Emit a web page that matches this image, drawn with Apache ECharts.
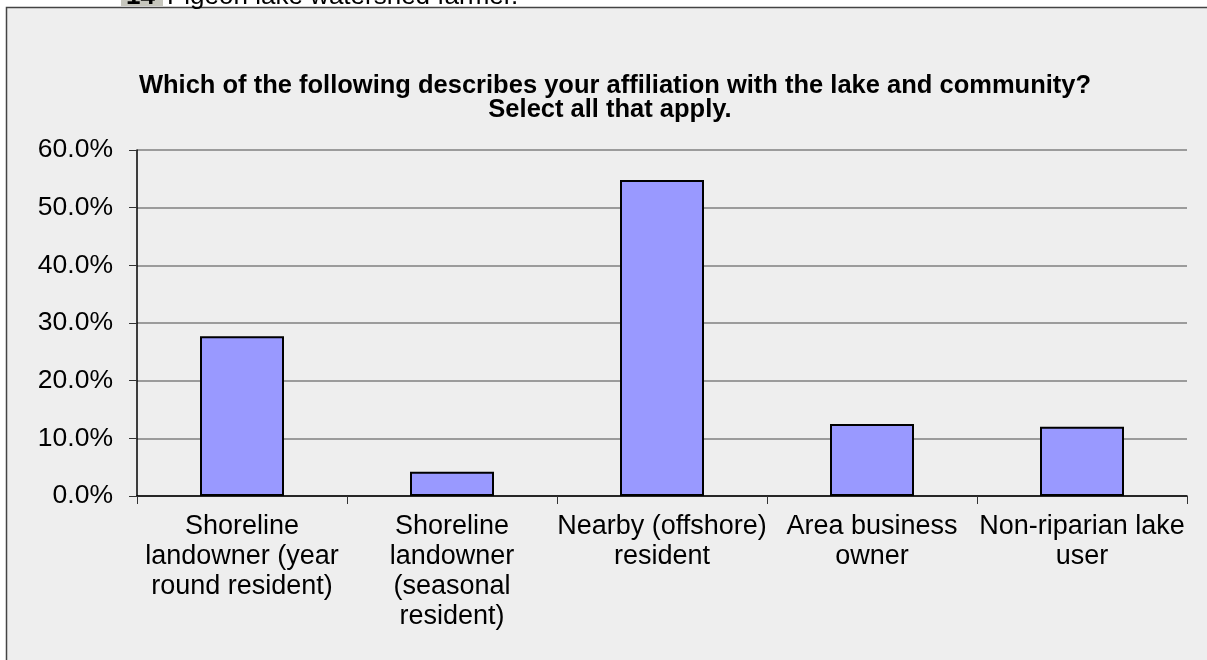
<!DOCTYPE html>
<html>
<head>
<meta charset="utf-8">
<script src="https://cdn.jsdelivr.net/npm/echarts@6/dist/echarts.min.js"></script>
<style>
  html, body { margin: 0; padding: 0; background: #ffffff; }
  #chart { width: 1207px; height: 660px; }
</style>
</head>
<body>
<div id="chart"></div>
<script>
var categories = [
    'Shoreline\nlandowner (year\nround resident)',
    'Shoreline\nlandowner\n(seasonal\nresident)',
    'Nearby (offshore)\nresident',
    'Area business\nowner',
    'Non-riparian lake\nuser'
];
var percentValues = [27.7, 4.2, 54.8, 12.5, 12.0];
var yTicks = [0, 10, 20, 30, 40, 50, 60];

var titleLine1 = 'Which of the following describes your affiliation with the lake and community?';
var titleLine2 = 'Select all that apply.';
var topCaption = 'Pigeon lake watershed farmer.';
var FONT = '"Liberation Sans", Arial, sans-serif';

var myChart = echarts.init(document.getElementById('chart'));

var option = {
    backgroundColor: '#ffffff',
    animation: false,
    graphic: [
        {
            type: 'rect',
            z: -10,
            shape: { x: 6.5, y: 7.5, width: 1260, height: 700 },
            style: { fill: '#eeeeee', stroke: '#444444', lineWidth: 1.5 }
        },
        {
            type: 'rect',
            z: -5,
            shape: { x: 121, y: 0, width: 42, height: 6 },
            style: { fill: '#c6c6bd' }
        },
        {
            type: 'text',
            x: 126,
            y: -3,
            style: {
                text: '14',
                font: 'bold 26px ' + FONT,
                fill: '#000',
                verticalAlign: 'middle'
            }
        },
        {
            type: 'text',
            x: 167,
            y: -3,
            style: {
                text: topCaption,
                font: '26px ' + FONT,
                fill: '#000',
                verticalAlign: 'middle'
            }
        }
    ],
    title: [
        {
            text: titleLine1,
            left: 610,
            top: 68,
            textAlign: 'center',
            textStyle: { fontFamily: FONT, fontSize: 25.5, fontWeight: 'bold', color: '#000' }
        },
        {
            text: titleLine2,
            left: 605,
            top: 92,
            textAlign: 'center',
            textStyle: { fontFamily: FONT, fontSize: 25.5, fontWeight: 'bold', color: '#000' }
        }
    ],
    grid: {
        left: 137,
        right: 20,
        top: 150,
        bottom: 164,
        containLabel: false
    },
    xAxis: {
        type: 'category',
        data: categories,
        axisLine: { lineStyle: { color: '#000', width: 1.5 } },
        axisTick: { show: true, length: 8, lineStyle: { color: '#333' } },
        axisLabel: {
            interval: 0,
            margin: 16,
            fontFamily: FONT,
            fontSize: 27,
            lineHeight: 30,
            color: '#000'
        }
    },
    yAxis: {
        type: 'value',
        min: 0,
        max: 60,
        interval: 10,
        axisLine: { show: true, lineStyle: { color: '#000', width: 1.5 } },
        axisTick: { show: true, length: 8, lineStyle: { color: '#333' } },
        splitLine: { show: true, lineStyle: { color: '#7f7f7f', width: 1.5 } },
        axisLabel: {
            margin: 24,
            fontFamily: FONT,
            fontSize: 26.5,
            color: '#000',
            formatter: function (v) {
                return yTicks.indexOf(v) >= 0 ? v.toFixed(1) + '%' : '';
            }
        }
    },
    series: [
        {
            type: 'bar',
            data: percentValues,
            barWidth: '40%',
            itemStyle: {
                color: '#9999ff',
                borderColor: '#000',
                borderWidth: 2
            }
        }
    ]
};

myChart.setOption(option);
</script>
</body>
</html>
